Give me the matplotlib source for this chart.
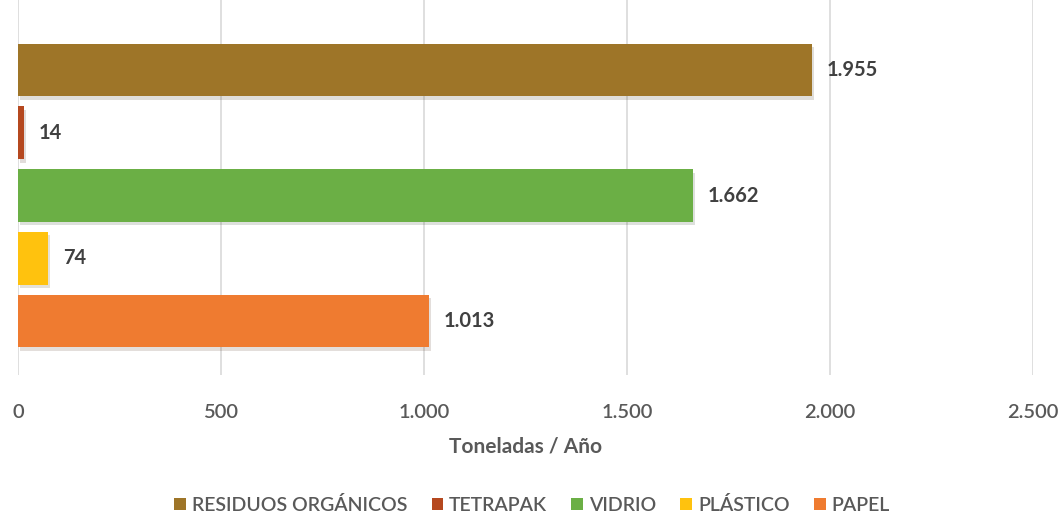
import matplotlib.pyplot as plt
import matplotlib.patheffects as pe
from matplotlib.patches import Patch

plt.rcParams['font.family'] = ['Lato', 'DejaVu Sans']

categorias = ['RESIDUOS ORGÁNICOS', 'TETRAPAK', 'VIDRIO', 'PLÁSTICO', 'PAPEL']
toneladas = [1955, 14, 1662, 74, 1013]
etiquetas = ['1.955', '14', '1.662', '74', '1.013']
colores = ['#9E7528', '#B5481F', '#6BAF45', '#FFC20E', '#EF7B30']
ticks = [0, 500, 1000, 1500, 2000, 2500]
tick_labels = ['0', '500', '1.000', '1.500', '2.000', '2.500']

fig = plt.figure(figsize=(10.64, 5.2), dpi=100)
ax = fig.add_axes([18 / 1064, 145 / 520, 1015 / 1064, 375 / 520])

pos = list(range(len(categorias)))
bars = ax.barh(pos, toneladas, height=0.84, color=colores, zorder=3)
for b in bars:
    b.set_path_effects([pe.SimplePatchShadow(offset=(1.5, -2.5), alpha=0.15),
                        pe.Normal()])

for p, v, t in zip(pos, toneladas, etiquetas):
    ax.text(v + 36, p, t, va='center', ha='left', fontsize=14.5,
            fontweight='bold', color='#404040')

ax.set_xlim(0, 2500)
ax.set_ylim(4.86, -1.115)
ax.set_xticks(ticks)
ax.set_xticklabels(tick_labels, fontsize=14.5, color='#595959',
                   fontweight='semibold')
ax.set_yticks([])
ax.tick_params(axis='x', length=0, pad=21)
ax.grid(axis='x', color='#D9D9D9', linewidth=1.2, zorder=0)
for s in ax.spines.values():
    s.set_visible(False)
ax.set_xlabel('Toneladas / Año', fontsize=15, fontweight='bold',
              color='#595959', labelpad=11)

handles = [Patch(facecolor=c, label=n) for c, n in zip(colores, categorias)]
fig.legend(handles=handles, loc='center', bbox_to_anchor=(0.5, 1 - 505 / 520),
           ncol=5, frameon=False, prop={'size': 14, 'weight': 'semibold'},
           handlelength=0.6, handleheight=0.6, handletextpad=0.3,
           columnspacing=1.25, labelcolor='#595959')

fig.savefig('out.png', dpi=100, facecolor='white')
